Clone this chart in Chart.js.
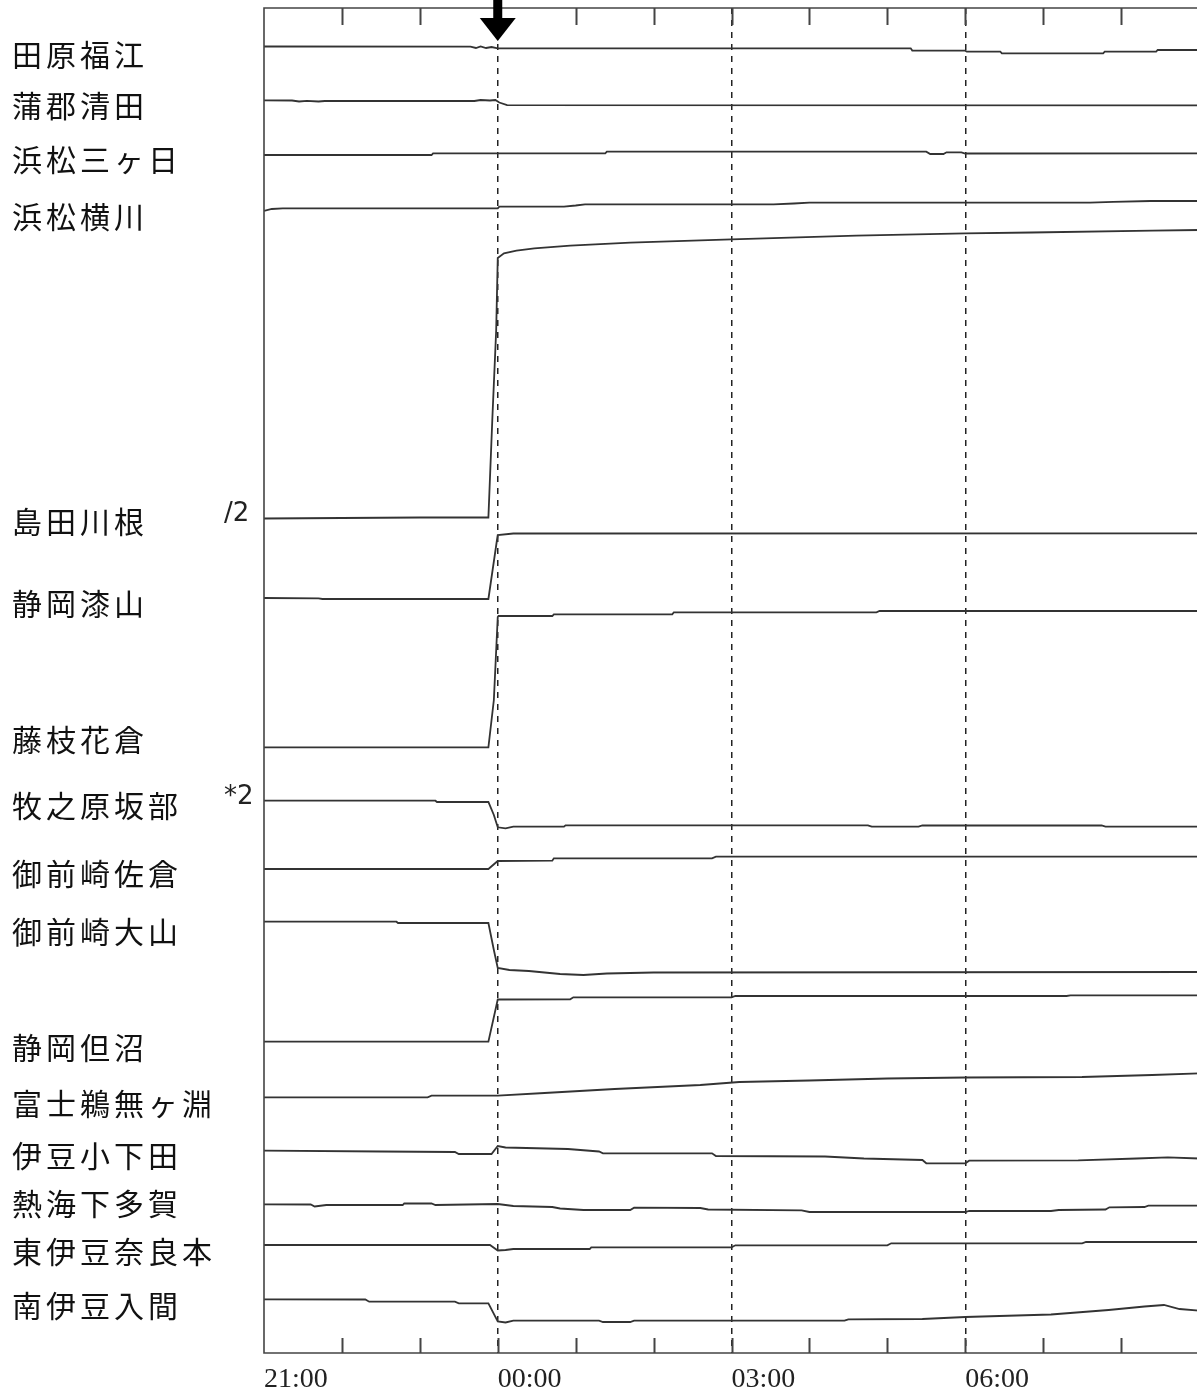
<!DOCTYPE html>
<html>
<head>
<meta charset="utf-8">
<script src="https://cdn.jsdelivr.net/npm/chart.js@4.4.1/dist/chart.umd.min.js"></script>
<style>
  html, body { margin: 0; padding: 0; background: #fff; overflow: hidden; }
  #wrap { position: absolute; left: 0; top: 0; width: 1200px; height: 1391px; }
</style>
</head>
<body>
<div id="wrap"><canvas id="strainChart" width="1200" height="1391"></canvas></div>
<script>
// Hours since 21:00 on the x axis, trace level (downwards, arbitrary units) on the y axis
const tickLabels = ['21:00', '', '', '00:00', '', '', '03:00', '', '', '06:00', '', '', ''];
const markedHours = [3, 6, 9];   // dashed reference lines
const eventHour = 3;             // arrow at 00:00

const stationNames = [
  '田原福江', '蒲郡清田', '浜松三ヶ日', '浜松横川', '島田川根', '静岡漆山', '藤枝花倉', '牧之原坂部',
  '御前崎佐倉', '御前崎大山', '静岡但沼', '富士鵜無ヶ淵', '伊豆小下田', '熱海下多賀', '東伊豆奈良本', '南伊豆入間'
];

// [hour, level] pairs
const taharaFukue = [[0,38.5],[2.65,38.7],[2.72,40],[2.78,38.5],[2.85,40],[2.92,39],[3.0,40.3],[8.3,40.3],[8.32,42.5],[9.0,42.7],[9.02,43.7],[9.45,43.7],[9.47,45.3],[10.77,45.3],[10.79,43.7],[11.45,43.7],[11.47,42],[12,42]];
const gamagoriKiyota = [[0,92.3],[0.36,92.5],[0.45,93.5],[0.55,92.8],[0.7,93.5],[0.78,93],[2.7,93],[2.78,92],[2.9,92.5],[2.97,92],[3.02,94.5],[3.12,97.2],[12,97.3]];
const hamamatsuMikkabi = [[0,147],[2.15,147],[2.17,145.3],[4.38,145.3],[4.4,143.7],[8.5,143.7],[8.55,146],[8.72,146],[8.76,144.3],[8.95,144.3],[9.0,145.5],[12,145.3]];
const hamamatsuYokokawa = [[0,203],[0.1,201],[0.24,200.3],[3,200.3],[3.02,198.7],[3.85,198.7],[4.0,197.5],[4.12,196.3],[6.54,196.3],[6.8,195.5],[7.0,194.7],[10.6,194.7],[10.9,193.8],[11.38,193],[12,193]];
const shimadaKawane = [[0,510.5],[1.0,510],[2.0,509.5],[2.88,509.5],[2.93,412],[2.98,322],[3.0,250],[3.08,245.3],[3.24,242.7],[3.47,240.3],[3.93,237.7],[4.7,234.7],[6.0,231.3],[7.6,227.7],[9.0,225.3],[9.85,224.5],[11.4,222.7],[12,222]];
const shizuokaUrushiyama = [[0,590],[0.7,590.3],[0.75,591],[2.88,591],[2.99,532],[3.0,527],[3.2,525.5],[12,525.3]];
const fujiedaHanakura = [[0,739.3],[2.88,739.3],[2.95,692],[3.0,609],[3.01,608],[3.7,608],[3.72,606.3],[5.24,606.3],[5.26,604.3],[7.86,604.3],[7.9,603],[12,603]];
const makinoharaSakabe = [[0,792.7],[2.2,792.7],[2.22,794],[2.88,794],[2.95,807],[3.0,819.3],[3.1,820.3],[3.2,818.7],[3.85,818.7],[3.87,817.3],[7.75,817.3],[7.8,818.7],[8.4,818.7],[8.45,817.5],[10.75,817.5],[10.8,818.7],[12,818.7]];
const omaezakiSakura = [[0,861],[2.88,861],[3.0,853],[3.7,852.7],[3.72,850.3],[5.75,850.3],[5.8,848.7],[12,848.7]];
const omaezakiOyama = [[0,913.7],[1.7,913.7],[1.72,915],[2.88,915],[2.95,942],[3.0,960],[3.15,962],[3.4,963],[3.8,966],[4.1,967],[4.4,965.5],[5.0,964.5],[12,964]];
const shizuokaTadanuma = [[0,1033.7],[2.88,1033.7],[3.0,991.5],[3.93,991.3],[3.97,989.3],[6.0,989.3],[6.05,988],[10.3,988],[10.35,987.3],[12,987.3]];
const fujiUnagafuchi = [[0,1089.3],[2.1,1089.3],[2.15,1087.7],[3.0,1087.7],[3.6,1085],[4.5,1081],[5.6,1077],[6.1,1074],[7.0,1072.5],[8.0,1070.5],[9.0,1069.5],[10.5,1069],[11.4,1067],[12,1065.3]];
const izuKoshimoda = [[0,1142.7],[1.5,1143.5],[2.45,1144],[2.5,1146],[2.92,1146],[3.0,1138],[3.1,1139.5],[3.9,1141],[4.3,1143.5],[4.35,1145.3],[5.75,1145.3],[5.8,1148],[7.2,1148.5],[7.7,1150.5],[8.45,1152],[8.5,1155.3],[9.0,1155.3],[9.05,1152.7],[10.45,1152.3],[11.2,1150.5],[11.6,1149.3],[12,1150.5]];
const atamiShimotaga = [[0,1196.3],[0.6,1196.5],[0.65,1198.5],[0.8,1197],[1.78,1197],[1.8,1195.3],[2.15,1195.5],[2.2,1197],[3.0,1196],[3.2,1198],[3.7,1199],[3.8,1200.5],[4.1,1202],[4.7,1202],[4.75,1199.7],[5.6,1200],[5.7,1201.5],[6.9,1202.3],[7.0,1204],[9.0,1204],[9.05,1203],[10.1,1203],[10.2,1202],[10.8,1201.5],[10.85,1199.3],[11.3,1199],[11.35,1197.7],[12,1197.7]];
const higashiizuNaramoto = [[0,1237],[2.9,1237],[3.0,1242.5],[3.1,1242],[3.2,1241],[4.18,1241],[4.2,1239.3],[6.0,1239.3],[6.05,1237.3],[8.0,1237.3],[8.05,1235.3],[10.5,1235.3],[10.55,1234],[12,1234]];
const minamiizuIruma = [[0,1291.3],[1.3,1291.5],[1.35,1293.7],[2.45,1293.7],[2.5,1295.3],[2.88,1295.3],[3.0,1313.5],[3.1,1314.5],[3.2,1312.7],[4.3,1312.7],[4.35,1314],[4.7,1314],[4.75,1312.7],[7.45,1312.7],[7.5,1311.3],[8.45,1311],[9.0,1309],[10.1,1306.5],[10.84,1302],[11.3,1298.5],[11.55,1297],[11.75,1301],[12,1302.7]];

const stationSeries = [
  taharaFukue, gamagoriKiyota, hamamatsuMikkabi, hamamatsuYokokawa, shimadaKawane, shizuokaUrushiyama,
  fujiedaHanakura, makinoharaSakabe, omaezakiSakura, omaezakiOyama, shizuokaTadanuma, fujiUnagafuchi,
  izuKoshimoda, atamiShimotaga, higashiizuNaramoto, minamiizuIruma
];

// Scale notes shown beside two traces (index into stationNames)
const scaleNotes = [{ station: 4, text: '/2' }, { station: 7, text: '*2' }];

// Layout (page pixels) for the text column on the left
const labelLayout = {
  x: 12,
  y: [55, 106, 160, 217, 522, 604, 740, 806, 874, 932, 1048, 1104, 1156, 1204, 1252, 1306],
  noteX: 224,
  noteY: { 4: 514, 7: 797 }
};

const traceColor = '#333';

// Frame, inward hour ticks, event arrow and left labels
const recorderDecor = {
  id: 'recorderDecor',
  afterDatasetsDraw(chart) {
    const { ctx, chartArea: area, scales: { x } } = chart;
    ctx.save();

    // frame (top, left, bottom)
    ctx.strokeStyle = '#444';
    ctx.lineWidth = 1.6;
    ctx.beginPath();
    ctx.moveTo(area.right + 2, area.top);
    ctx.lineTo(area.left, area.top);
    ctx.lineTo(area.left, area.bottom);
    ctx.lineTo(area.right + 2, area.bottom);
    ctx.stroke();

    // hour ticks pointing inwards
    ctx.lineWidth = 2;
    for (let h = 1; h < tickLabels.length; h++) {
      const px = Math.round(x.getPixelForValue(h)) + 0.5;
      ctx.beginPath();
      ctx.moveTo(px, area.top);
      ctx.lineTo(px, area.top + 17);
      ctx.moveTo(px, area.bottom);
      ctx.lineTo(px, area.bottom - 15);
      ctx.stroke();
    }

    // event arrow
    const ax = x.getPixelForValue(eventHour);
    ctx.fillStyle = '#000';
    ctx.fillRect(ax - 4.5, 0, 9, 20);
    ctx.beginPath();
    ctx.moveTo(ax - 18, 18);
    ctx.lineTo(ax + 18, 18);
    ctx.lineTo(ax, 41);
    ctx.closePath();
    ctx.fill();

    // station names
    ctx.fillStyle = '#111';
    ctx.textBaseline = 'middle';
    ctx.textAlign = 'left';
    ctx.font = '30px "Noto Sans CJK JP"';
    if ('letterSpacing' in ctx) ctx.letterSpacing = '4px';
    stationNames.forEach((name, i) => {
      ctx.fillText(name, labelLayout.x, labelLayout.y[i]);
    });
    if ('letterSpacing' in ctx) ctx.letterSpacing = '0px';

    // scale notes
    ctx.font = '26px "DejaVu Sans"';
    ctx.fillStyle = '#222';
    scaleNotes.forEach(note => {
      ctx.fillText(note.text, labelLayout.noteX, labelLayout.noteY[note.station]);
    });

    ctx.restore();
  }
};

const ctx = document.getElementById('strainChart').getContext('2d');

new Chart(ctx, {
  type: 'line',
  data: {
    datasets: stationSeries.map((series, i) => ({
      label: stationNames[i],
      data: series.map(([h, v]) => ({ x: h, y: v })),
      borderColor: traceColor,
      borderWidth: 1.8,
      pointRadius: 0,
      tension: 0,
      fill: false
    }))
  },
  options: {
    responsive: false,
    animation: false,
    events: [],
    layout: { padding: { left: 264, top: 8, right: 1, bottom: 0 } },
    plugins: {
      legend: { display: false },
      tooltip: { enabled: false }
    },
    scales: {
      x: {
        type: 'linear',
        min: 0,
        max: 12,
        afterFit(scale) {
          scale.height = 38;
          scale.paddingLeft = 0;
          scale.paddingRight = 0;
        },
        border: { display: false, dash: [6, 6] },
        grid: {
          drawTicks: false,
          lineWidth: 1.5,
          color: c => markedHours.includes(c.tick && c.tick.value) ? '#222' : 'rgba(0,0,0,0)'
        },
        ticks: {
          stepSize: 1,
          autoSkip: false,
          maxRotation: 0,
          align: 'start',
          padding: 10,
          color: '#222',
          font: { family: 'Liberation Serif', size: 28 },
          callback: value => tickLabels[value] || ''
        }
      },
      y: {
        display: false,
        reverse: true,
        min: 0,
        max: 1345
      }
    }
  },
  plugins: [recorderDecor]
});
</script>
</body>
</html>
